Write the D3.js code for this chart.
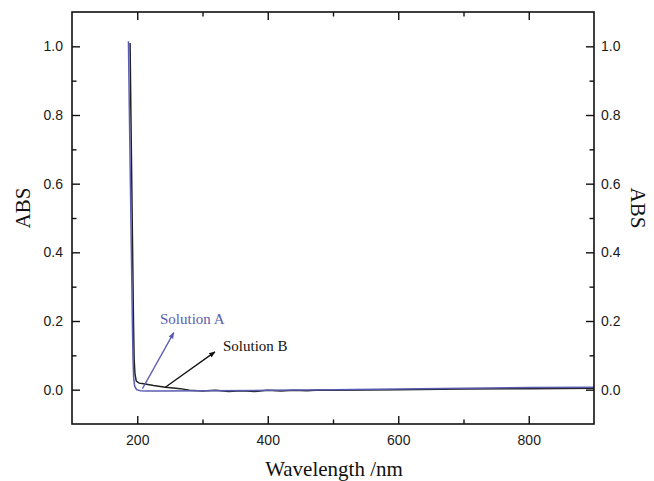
<!DOCTYPE html>
<html>
<head>
<meta charset="utf-8">
<script src="https://cdn.jsdelivr.net/npm/d3@7"></script>
<style>
  body { margin: 0; background: #fff; }
  .tick text { font-family: "Liberation Sans", Arial, sans-serif; font-size: 14px; fill: #1a1a1a; }
  .tick line { stroke: #111; stroke-width: 1.4; }
</style>
</head>
<body>
<div id="chart"></div>
<script>
// Solution A (blue) spectrum
var wavelengthA = [186.5, 188, 189.5, 191, 192.5, 193.5, 194.5, 196, 199, 205, 215, 240, 300, 400, 500, 600, 700, 800, 900];
var absorbA     = [1.015, 0.80, 0.60, 0.40, 0.20, 0.09, 0.035, 0.01, 0.0, -0.003, -0.004, -0.004, -0.003, -0.002, 0.0, 0.002, 0.004, 0.006, 0.007];

// Solution B (black) spectrum
var wavelengthB = [189, 190.3, 191.6, 192.9, 194.2, 195.2, 196.5, 198.5, 203, 210, 225, 243, 255, 266, 280, 300, 320, 340, 360, 380, 400, 420, 440, 460, 480, 500, 600, 700, 800, 900];
var absorbB     = [1.01, 0.80, 0.60, 0.40, 0.20, 0.09, 0.045, 0.025, 0.019, 0.017, 0.012, 0.007, 0.005, 0.003, -0.002, -0.004, -0.002, -0.005, -0.003, -0.005, -0.002, -0.004, -0.002, -0.003, -0.001, -0.002, 0.0, 0.002, 0.003, 0.004];

var xMajor = [200, 400, 600, 800];
var xMinor = [300, 500, 700];
var yMajor = [0.0, 0.2, 0.4, 0.6, 0.8, 1.0];
var yMinor = [0.1, 0.3, 0.5, 0.7, 0.9];

function init() {
    var w = 654, h = 481;
    var left = 72, right = 594, top = 12, bottom = 424;
    var blue = "#5a5cb0", dark = "#222";

    var svg = d3.select("#chart").append("svg")
        .attr("width", w)
        .attr("height", h);

    var x = d3.scaleLinear().domain([100, 900]).range([left, right]);
    var y = d3.scaleLinear().domain([-0.1, 1.1]).range([bottom, top]);

    //arrow heads
    var defs = svg.append("defs");
    [["arrA", blue], ["arrB", "#111"]].forEach(function(m) {
        defs.append("marker")
            .attr("id", m[0])
            .attr("viewBox", "0 0 10 10")
            .attr("refX", 9).attr("refY", 5)
            .attr("markerWidth", 5).attr("markerHeight", 5)
            .attr("orient", "auto")
            .append("path")
            .attr("d", "M0,1 L10,5 L0,9 Z")
            .attr("fill", m[1]);
    });

    //curves
    var line = d3.line().x(d => x(d[0])).y(d => y(d[1]));
    var serA = wavelengthA.map((v, i) => [v, absorbA[i]]);
    var serB = wavelengthB.map((v, i) => [v, absorbB[i]]);

    svg.append("path").datum(serB)
        .attr("d", line).attr("fill", "none")
        .attr("stroke", dark).attr("stroke-width", 1.5);
    svg.append("path").datum(serA)
        .attr("d", line).attr("fill", "none")
        .attr("stroke", blue).attr("stroke-width", 1.5);

    //axes with inward ticks
    var fmtY = d3.format(".1f");
    svg.append("g").attr("transform", `translate(0,${bottom})`)
        .call(d3.axisBottom(x).tickValues(xMajor).tickSize(-8).tickSizeOuter(0).tickPadding(11));
    svg.append("g").attr("transform", `translate(0,${bottom})`)
        .call(d3.axisBottom(x).tickValues(xMinor).tickSize(-4.5).tickSizeOuter(0).tickFormat(""));
    svg.append("g").attr("transform", `translate(0,${top})`)
        .call(d3.axisTop(x).tickValues(xMajor).tickSize(-8).tickSizeOuter(0).tickFormat(""));
    svg.append("g").attr("transform", `translate(0,${top})`)
        .call(d3.axisTop(x).tickValues(xMinor).tickSize(-4.5).tickSizeOuter(0).tickFormat(""));

    svg.append("g").attr("transform", `translate(${left},0)`)
        .call(d3.axisLeft(y).tickValues(yMajor).tickSize(-8).tickSizeOuter(0).tickPadding(9).tickFormat(fmtY));
    svg.append("g").attr("transform", `translate(${left},0)`)
        .call(d3.axisLeft(y).tickValues(yMinor).tickSize(-4.5).tickSizeOuter(0).tickFormat(""));
    svg.append("g").attr("transform", `translate(${right},0)`)
        .call(d3.axisRight(y).tickValues(yMajor).tickSize(-8).tickSizeOuter(0).tickPadding(7).tickFormat(fmtY));
    svg.append("g").attr("transform", `translate(${right},0)`)
        .call(d3.axisRight(y).tickValues(yMinor).tickSize(-4.5).tickSizeOuter(0).tickFormat(""));

    svg.selectAll(".domain").remove();

    //frame
    svg.append("rect")
        .attr("x", left).attr("y", top)
        .attr("width", right - left).attr("height", bottom - top)
        .attr("fill", "none").attr("stroke", "#111").attr("stroke-width", 1.6);

    //axis titles
    var serif = "'Liberation Serif', 'Times New Roman', serif";
    svg.append("text")
        .attr("x", 334).attr("y", 476)
        .attr("text-anchor", "middle")
        .style("font-family", serif).style("font-size", "21px").style("fill", "#111")
        .text("Wavelength /nm");
    svg.append("text")
        .attr("transform", "translate(30,208) rotate(-90)")
        .attr("text-anchor", "middle")
        .style("font-family", serif).style("font-size", "21px").style("fill", "#111")
        .text("ABS");
    svg.append("text")
        .attr("transform", "translate(631,208) rotate(90)")
        .attr("text-anchor", "middle")
        .style("font-family", serif).style("font-size", "21px").style("fill", "#111")
        .text("ABS");

    //annotations
    svg.append("line")
        .attr("x1", x(208)).attr("y1", y(0.003))
        .attr("x2", x(256)).attr("y2", y(0.166))
        .attr("stroke", blue).attr("stroke-width", 1.3)
        .attr("marker-end", "url(#arrA)");
    svg.append("text")
        .attr("x", 160).attr("y", 324)
        .style("font-family", serif).style("font-size", "15px").style("fill", blue)
        .text("Solution A");

    svg.append("line")
        .attr("x1", x(243)).attr("y1", y(0.007))
        .attr("x2", x(319)).attr("y2", y(0.11))
        .attr("stroke", "#111").attr("stroke-width", 1.3)
        .attr("marker-end", "url(#arrB)");
    svg.append("text")
        .attr("x", 223).attr("y", 351)
        .style("font-family", serif).style("font-size", "15px").style("fill", "#111")
        .text("Solution B");
}

window.onload = init;
</script>
</body>
</html>
